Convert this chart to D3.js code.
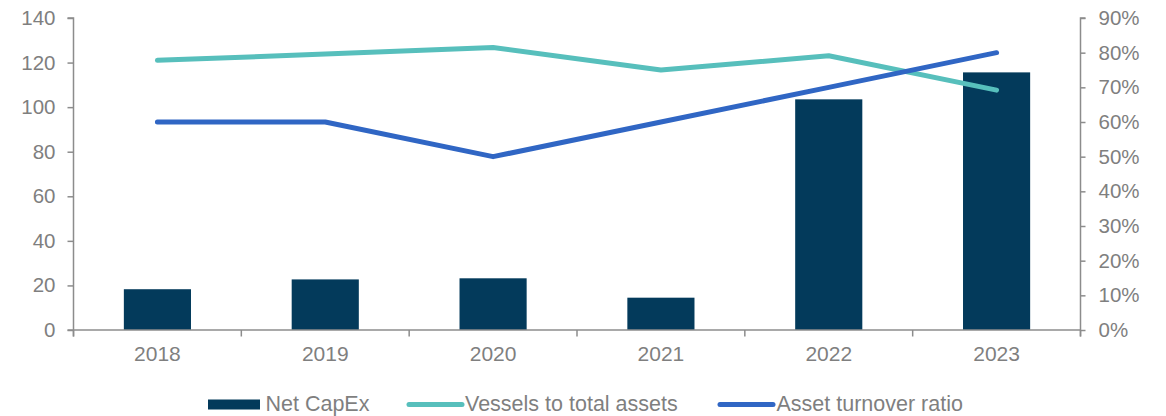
<!DOCTYPE html>
<html>
<head>
<meta charset="utf-8">
<script src="https://cdn.jsdelivr.net/npm/d3@7"></script>
<style>
  html, body { margin: 0; padding: 0; background: #fff; }
  svg { display: block; font-family: "Liberation Sans", Arial, sans-serif; }
</style>
</head>
<body>
<svg id="chart" width="1166" height="416"></svg>
<script>
// Data
const years = ["2018", "2019", "2020", "2021", "2022", "2023"];
const netCapEx = [18.3, 22.7, 23.2, 14.5, 103.5, 115.6];
const vesselsToAssets = [0.778, 0.796, 0.815, 0.750, 0.791, 0.692];
const assetTurnover = [0.60, 0.60, 0.50, 0.60, 0.70, 0.80];
const leftTicks = [0, 20, 40, 60, 80, 100, 120, 140];
const rightTicks = [0, 0.1, 0.2, 0.3, 0.4, 0.5, 0.6, 0.7, 0.8, 0.9];

const colors = { bar: "#033a5b", teal: "#57bfbc", blue: "#3066c4", axis: "#8c8c8c", text: "#7f7f7f" };

const svg = d3.select("#chart");
const x0 = 73.5, x1 = 1080.5, yTop = 18, yBottom = 330;

const x = d3.scaleBand().domain(years).range([x0, x1]).paddingInner(0).paddingOuter(0);
const yL = d3.scaleLinear().domain([0, 140]).range([yBottom, yTop]);
const yR = d3.scaleLinear().domain([0, 0.9]).range([yBottom, yTop]);

const barW = x.bandwidth() * 0.4;

// Bars
svg.append("g").selectAll("rect").data(years).join("rect")
  .attr("x", d => x(d) + (x.bandwidth() - barW) / 2)
  .attr("y", (d, i) => yL(netCapEx[i]))
  .attr("width", barW)
  .attr("height", (d, i) => yBottom - yL(netCapEx[i]))
  .attr("fill", colors.bar);

// Left axis
const axL = svg.append("g").attr("transform", `translate(${x0},0)`)
  .call(d3.axisLeft(yL).tickValues(leftTicks).tickSize(6).tickPadding(12).tickFormat(d3.format("d")));

// Right axis
const axR = svg.append("g").attr("transform", `translate(${x1},0)`)
  .call(d3.axisRight(yR).tickValues(rightTicks).tickSize(5).tickPadding(13).tickFormat(d3.format(".0%")));

// Bottom axis with boundary ticks
const axB = svg.append("g").attr("transform", `translate(0,${yBottom})`)
  .call(d3.axisBottom(x).tickSize(0).tickPadding(16));
axB.selectAll(".tick line").remove();
const bounds = years.map(d => x(d)).concat([x1]);
axB.selectAll("line.bound").data(bounds).join("line")
  .attr("class", "bound")
  .attr("x1", d => d).attr("x2", d => d)
  .attr("y1", 0).attr("y2", 6.5);

[axL, axR, axB].forEach(g => {
  g.select(".domain").attr("stroke", colors.axis).attr("stroke-width", 1.5);
  g.selectAll("line").attr("stroke", colors.axis).attr("stroke-width", 1.5);
  g.selectAll("text").attr("fill", colors.text).attr("font-size", 20.5)
    .attr("font-family", "'Liberation Sans', Arial, sans-serif");
});
axL.select(".domain").attr("d", `M-6,${yTop}H0V${yBottom + 6.5}`);
axR.select(".domain").attr("d", `M5,${yTop}H0V${yBottom + 6.5}`);
axB.select(".domain").attr("d", `M${x0 - 6},0H${x1}`);
axB.selectAll("text").attr("font-size", 21);

// Lines
const lineGen = vals => d3.line()
  .x((d, i) => x(years[i]) + x.bandwidth() / 2)
  .y(d => yR(d))(vals);

svg.append("path").attr("d", lineGen(vesselsToAssets))
  .attr("fill", "none").attr("stroke", colors.teal).attr("stroke-width", 5)
  .attr("stroke-linecap", "round").attr("stroke-linejoin", "round");
svg.append("path").attr("d", lineGen(assetTurnover))
  .attr("fill", "none").attr("stroke", colors.blue).attr("stroke-width", 5)
  .attr("stroke-linecap", "round").attr("stroke-linejoin", "round");

// Legend
const legend = svg.append("g").attr("font-size", 21.5).attr("fill", colors.text);
const ly = 404.5;
legend.append("rect").attr("x", 208).attr("y", ly - 5).attr("width", 52).attr("height", 10).attr("fill", colors.bar);
legend.append("text").attr("x", 265.5).attr("y", ly + 6.5).text("Net CapEx");
legend.append("line").attr("x1", 409).attr("x2", 462).attr("y1", ly).attr("y2", ly)
  .attr("stroke", colors.teal).attr("stroke-width", 5).attr("stroke-linecap", "round");
legend.append("text").attr("x", 465).attr("y", ly + 6.5).text("Vessels to total assets");
legend.append("line").attr("x1", 720).attr("x2", 773).attr("y1", ly).attr("y2", ly)
  .attr("stroke", colors.blue).attr("stroke-width", 5).attr("stroke-linecap", "round");
legend.append("text").attr("x", 776.5).attr("y", ly + 6.5).text("Asset turnover ratio");
</script>
</body>
</html>
